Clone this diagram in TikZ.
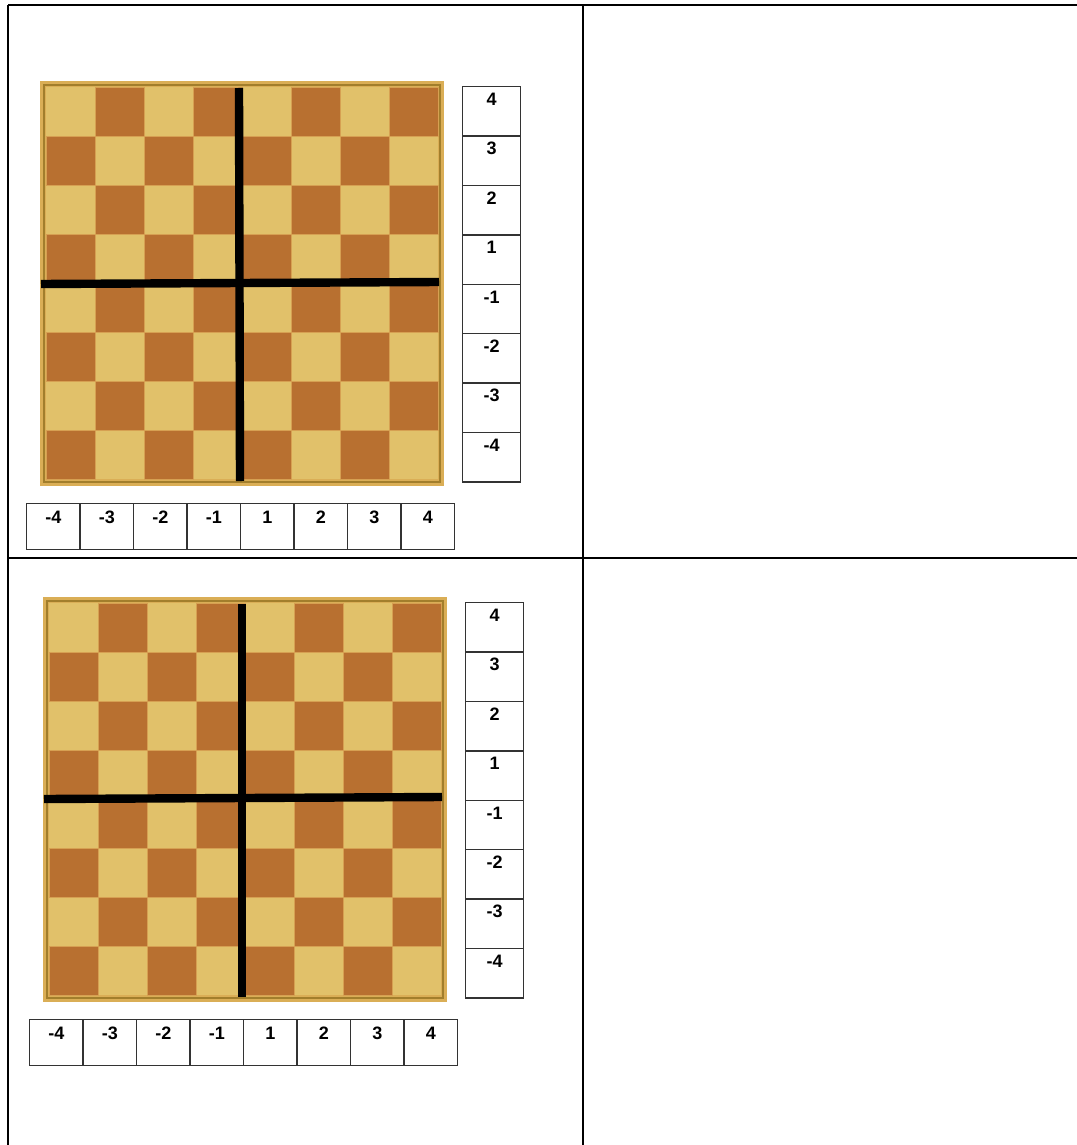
\documentclass[tikz,border=0pt]{standalone}
\usepackage{fontspec}
\setmainfont{Liberation Sans}
\definecolor{lightsq}{RGB}{225,193,106}
\definecolor{darksq}{RGB}{184,112,48}
\definecolor{sqedge}{RGB}{214,160,82}
\definecolor{frameout}{RGB}{218,174,86}
\definecolor{framein}{RGB}{162,126,44}
\tikzset{
  tableline/.style={line width=1.7pt, black},
  axisline/.style={line width=6.3pt, black},
  cellbox/.style={draw=black!80, line width=1.1pt, inner sep=0pt},
  celltext/.style={font=\bfseries\fontsize{13.5}{15}\selectfont, inner sep=0pt},
}
\newcommand\drawboard[2]{%
  % frame
  \fill[frameout] (#1,#2) rectangle ++(404,405);
  \draw[framein, line width=1.8pt] (#1+4,#2+4) rectangle ++(396,397);
  \fill[lightsq] (#1+6,#2+6) rectangle ++(392,392);
  \foreach \r in {0,...,7}{\foreach \c in {0,...,7}{%
    \pgfmathtruncatemacro\odd{mod(\r+\c,2)}%
    \ifnum\odd=1
      \fill[darksq,draw=sqedge,line width=0.5pt] (#1+6+49*\c,#2+6+49*\r) rectangle ++(49,49);
    \fi
  }}
}
\begin{document}
\begin{tikzpicture}[x=0.75pt,y=-0.75pt]
\useasboundingbox (0,0) rectangle (1077,1145);
\begin{scope}
\clip (0,0) rectangle (1077,1145);
% table
\draw[tableline] (8,5) -- (1090,5);
\draw[tableline] (8,5) -- (8,1160);
\draw[tableline] (583,5) -- (583,1160);
\draw[tableline] (8,558) -- (1090,558);
\end{scope}

% ---------- board 1 ----------
\drawboard{40}{81}
\draw[axisline] (239,88) -- (240,481);
\draw[axisline] (41,284) -- (439,282);
\foreach \v [count=\i from 0] in {4,3,2,1,-1,-2,-3,-4}{
  \node[cellbox, minimum width=43.5pt, minimum height=37.05pt, anchor=north west] (ra\i) at (462,86+49.4*\i) {};
  \node[celltext] (rat\i) at ([yshift=-10pt]ra\i.north) {\v};
}
\foreach \v [count=\i from 0] in {-4,-3,-2,-1,1,2,3,4}{
  \node[cellbox, minimum width=40.1pt, minimum height=34.5pt, anchor=north west] (ba\i) at (26+53.5*\i,503) {};
  \node[celltext] (bat\i) at ([yshift=-10.5pt]ba\i.north) {\v};
}

% ---------- board 2 ----------
\drawboard{43}{597}
\draw[axisline] (242,604) -- (242,997);
\draw[axisline] (44,799) -- (442,797);
\foreach \v [count=\i from 0] in {4,3,2,1,-1,-2,-3,-4}{
  \node[cellbox, minimum width=43.5pt, minimum height=37.05pt, anchor=north west] (rb\i) at (465,602+49.4*\i) {};
  \node[celltext] (rbt\i) at ([yshift=-10pt]rb\i.north) {\v};
}
\foreach \v [count=\i from 0] in {-4,-3,-2,-1,1,2,3,4}{
  \node[cellbox, minimum width=40.1pt, minimum height=34.5pt, anchor=north west] (bb\i) at (29+53.5*\i,1019) {};
  \node[celltext] (bbt\i) at ([yshift=-10.5pt]bb\i.north) {\v};
}
\end{tikzpicture}
\end{document}
